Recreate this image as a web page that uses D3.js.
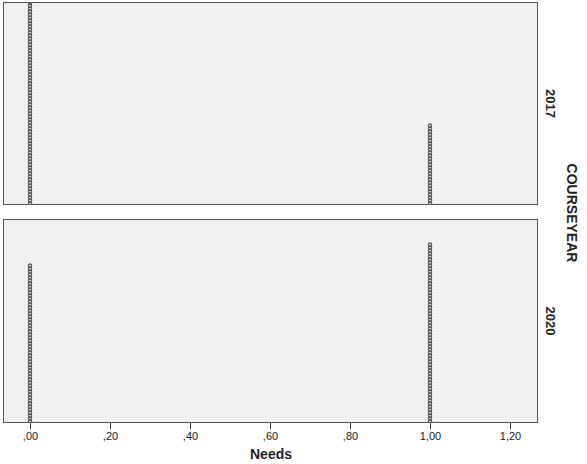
<!DOCTYPE html>
<html>
<head>
<meta charset="utf-8">
<script src="https://cdn.jsdelivr.net/npm/d3@7"></script>
<style>
  body{margin:0;background:#fff;}
  svg{display:block;font-family:Arial,"Liberation Sans",sans-serif;}
</style>
</head>
<body>
<svg id="chart" width="587" height="464"></svg>
<script>
// values of Needs, one stack per value
var needsValues = [0, 1];
// panel groups (COURSEYEAR)
var years = ["2017", "2020"];
// cases per value, per year
var counts2017 = [80, 27];
var counts2020 = [53, 60];
var xTicks = [0, 0.2, 0.4, 0.6, 0.8, 1.0, 1.2];

var svg = d3.select("#chart"),
    left = 3, right = 538,
    panels = [{top:2, bottom:205}, {top:219, bottom:423}],
    countsByYear = [counts2017, counts2020];

var x = d3.scaleLinear().domain([-0.0675, 1.27]).range([left, right]);
var fmt = function(d){ return d3.format(".2f")(d).replace(".", ",").replace(/^0/, ""); };

var defs = svg.append("defs");

panels.forEach(function(p, i){
  var h = p.bottom - p.top;
  // 3px per stacked dot
  var y = d3.scaleLinear().domain([0, h/3]).range([p.bottom, p.top]);

  defs.append("clipPath").attr("id", "clip" + i)
    .append("rect").attr("x", left).attr("y", p.top).attr("width", right-left).attr("height", h);

  svg.append("rect")
    .attr("x", left+0.5).attr("y", p.top+0.5)
    .attr("width", right-left-1).attr("height", h-1)
    .attr("fill", "#f0f0f0");

  var dots = [];
  needsValues.forEach(function(v, j){
    d3.range(countsByYear[i][j]).forEach(function(k){ dots.push({v:v, k:k}); });
  });

  svg.append("g").attr("clip-path", "url(#clip" + i + ")")
    .selectAll("circle").data(dots).enter().append("circle")
    .attr("cx", function(d){ return x(d.v); })
    .attr("cy", function(d){ return y(d.k + 0.5); })
    .attr("r", 1.7)
    .attr("fill", "#cfcfcf")
    .attr("stroke", "#2e2e2e")
    .attr("stroke-width", 1);

  svg.append("rect")
    .attr("x", left+0.5).attr("y", p.top+0.5)
    .attr("width", right-left-1).attr("height", h-1)
    .attr("fill", "none").attr("stroke", "#555").attr("stroke-width", 1);

  svg.append("text")
    .attr("transform", "translate(" + 546 + "," + ((p.top+p.bottom)/2) + ") rotate(90)")
    .attr("text-anchor", "middle")
    .attr("font-size", 13).attr("font-weight", "bold").attr("fill", "#222")
    .text(years[i]);
});

// x axis under the lower panel
var axis = svg.append("g").attr("transform", "translate(0," + 423 + ")")
  .call(d3.axisBottom(x).tickValues(xTicks).tickFormat(fmt).tickSize(6).tickPadding(3));
axis.select(".domain").remove();
axis.selectAll("line").attr("stroke", "#333");
axis.selectAll("text").attr("font-size", 11).attr("fill", "#222")
  .attr("font-family", "Arial,'Liberation Sans',sans-serif");

svg.append("text")
  .attr("x", 271).attr("y", 459)
  .attr("text-anchor", "middle")
  .attr("font-size", 14).attr("font-weight", "bold").attr("fill", "#222")
  .text("Needs");

svg.append("text")
  .attr("transform", "translate(567,213) rotate(90)")
  .attr("text-anchor", "middle")
  .attr("font-size", 14).attr("font-weight", "bold").attr("fill", "#222")
  .text("COURSEYEAR");
</script>
</body>
</html>
